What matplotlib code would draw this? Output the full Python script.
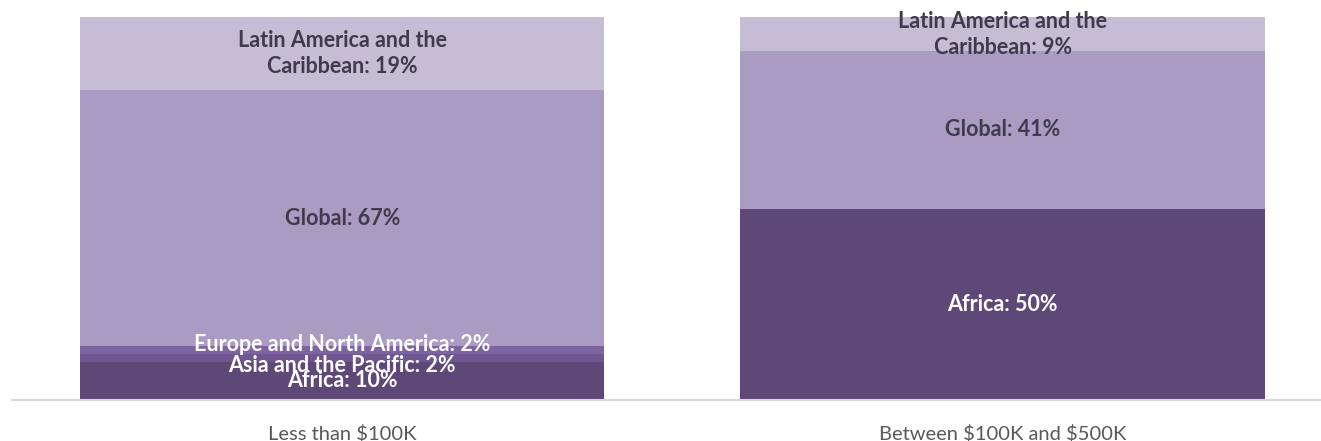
import matplotlib
matplotlib.use("Agg")
import matplotlib.pyplot as plt
import numpy as np

# chart data
categories = ["Less than \\$100K", "Between \\$100K and \\$500K"]
regions = ["Africa", "Asia and the Pacific", "Europe and North America",
           "Global", "Latin America and the\nCaribbean"]
shares = {
    "Africa": [10, 50],
    "Asia and the Pacific": [2, 0],
    "Europe and North America": [2, 0],
    "Global": [67, 41],
    "Latin America and the\nCaribbean": [19, 9],
}

colors = ["#5E4878", "#6F5690", "#7E63A1", "#A99BC1", "#C5BDD6"]
text_colors = ["white", "white", "white", "#3F3B4C", "#3F3B4C"]
# small pixel nudges so the crowded labels look like the original
nudges = {("Europe and North America", 0): 6, ("Asia and the Pacific", 0): -8}

plt.rcParams['font.family'] = ['Lato', 'DejaVu Sans']

fig = plt.figure(figsize=(13.21, 4.41), dpi=100)
ax = fig.add_axes([12 / 1321, 41 / 441, 1309 / 1321, 383 / 441])

x = np.arange(len(categories))
width = 0.794
bottom = np.zeros(len(categories))
for reg, col, tcol in zip(regions, colors, text_colors):
    vals = np.array(shares[reg], dtype=float)
    ax.bar(x, vals, width, bottom=bottom, color=col, linewidth=0)
    for i, v in enumerate(vals):
        if v <= 0:
            continue
        label = "%s: %d%%" % (reg, v)
        ax.annotate(label, (x[i], bottom[i] + v / 2), xytext=(0, nudges.get((reg, i), 0) * 0.72),
                    textcoords="offset points", ha="center", va="center",
                    fontsize=15.5, fontweight="bold", color=tcol, linespacing=1.3)
    bottom += vals

ax.set_xlim(-0.5, 1.482)
ax.set_ylim(0, 100)
ax.set_yticks([])
ax.set_xticks(x)
ax.set_xticklabels(categories, fontsize=14.5, color="#595959")
ax.tick_params(axis="x", length=0, pad=18)
for side in ["top", "right", "left"]:
    ax.spines[side].set_visible(False)
ax.spines["bottom"].set_color("#D9D9D9")
ax.spines["bottom"].set_linewidth(1.5)

fig.savefig("out.png", dpi=100)
